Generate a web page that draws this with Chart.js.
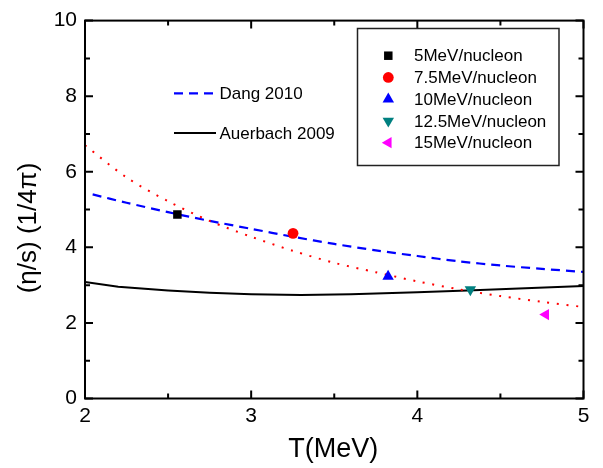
<!DOCTYPE html>
<html>
<head>
<meta charset="utf-8">
<script src="https://cdn.jsdelivr.net/npm/chart.js@4/dist/chart.umd.min.js"></script>
<style>
  html, body { margin: 0; padding: 0; background: #fff; }
  #wrap { width: 603px; height: 468px; }
</style>
</head>
<body>
<div id="wrap"><canvas id="c" width="603" height="468"></canvas></div>
<script>
// Beam energies of the measured points
const energyLabels = ['5MeV/nucleon', '7.5MeV/nucleon', '10MeV/nucleon', '12.5MeV/nucleon', '15MeV/nucleon'];
const pointT   = [2.556, 3.252, 3.824, 4.319, 4.773];
const pointEta = [4.87, 4.37, 3.23, 2.88, 2.22];

// Theory curves
const lineLabels = ['Dang 2010', 'Auerbach 2009'];
const dangT   = [2.046, 2.25, 2.5, 2.75, 3.0, 3.25, 3.5, 3.75, 4.0, 4.25, 4.5, 4.75, 5.0];
const dangEta = [5.40, 5.18, 4.93, 4.70, 4.49, 4.28, 4.09, 3.92, 3.77, 3.63, 3.52, 3.43, 3.35];
const auerT   = [2.0, 2.2, 2.5, 2.75, 3.0, 3.3, 3.6, 4.0, 4.3, 4.65, 5.0];
const auerEta = [3.08, 2.96, 2.86, 2.80, 2.76, 2.74, 2.76, 2.81, 2.86, 2.92, 2.98];

// Fit through the measured points
const fitT   = [2.0, 2.25, 2.5, 2.75, 3.0, 3.25, 3.5, 3.75, 4.0, 4.25, 4.5, 4.75, 5.0];
const fitEta = [6.70, 5.85, 5.22, 4.70, 4.28, 3.91, 3.59, 3.34, 3.10, 2.89, 2.71, 2.56, 2.42];

// Axis ticks
const xTicks = [2, 3, 4, 5];
const xMinor = [2.5, 3.5, 4.5];
const yTicks = [0, 2, 4, 6, 8, 10];
const yMinor = [1, 3, 5, 7, 9];

const FONT = "'Liberation Sans', Arial, Helvetica, sans-serif";
const pts = (xs, ys) => xs.map((x, i) => ({ x: x, y: ys[i] }));

const markerStyles = [
  { pointStyle: 'rect',     color: '#000000', radius: 6.0, rotation: 0 },
  { pointStyle: 'circle',   color: '#ff0000', radius: 5.4, rotation: 0 },
  { pointStyle: 'triangle', color: '#0000ff', radius: 6.6, rotation: 0 },
  { pointStyle: 'triangle', color: '#008080', radius: 6.6, rotation: 180 },
  { pointStyle: 'triangle', color: '#ff00ff', radius: 6.5, rotation: 270 }
];

const pointSets = energyLabels.map((lab, i) => ({
  label: lab,
  data: [{ x: pointT[i], y: pointEta[i] }],
  showLine: false,
  pointStyle: markerStyles[i].pointStyle,
  pointRotation: markerStyles[i].rotation,
  pointRadius: markerStyles[i].radius,
  pointBackgroundColor: markerStyles[i].color,
  pointBorderColor: markerStyles[i].color,
  pointBorderWidth: 0,
  order: 0
}));

const lineSets = [
  { label: lineLabels[0], data: pts(dangT, dangEta), showLine: true, pointRadius: 0,
    borderColor: '#0000ff', borderWidth: 2.2, borderDash: [9, 6], tension: 0.3, fill: false, order: 2 },
  { label: lineLabels[1], data: pts(auerT, auerEta), showLine: true, pointRadius: 0,
    borderColor: '#000000', borderWidth: 2, tension: 0, fill: false, order: 2 },
  { label: 'fit', data: pts(fitT, fitEta), showLine: true, pointRadius: 0,
    borderColor: '#ff0000', borderWidth: 2, borderDash: [2, 7.7], tension: 0.3, fill: false, order: 1 }
];

function drawMarker(ctx, style, x, y) {
  const opts = { pointStyle: style.pointStyle, radius: style.radius, rotation: style.rotation, borderWidth: 0 };
  ctx.save();
  ctx.fillStyle = style.color;
  ctx.strokeStyle = style.color;
  Chart.helpers.drawPoint(ctx, opts, x, y);
  ctx.restore();
}

// Frame with inward ticks, axis titles and the two legends
const decorations = {
  id: 'decorations',
  afterDraw(chart) {
    const ctx = chart.ctx;
    const a = chart.chartArea;
    const xs = chart.scales.x, ys = chart.scales.y;
    ctx.save();
    ctx.strokeStyle = '#000';
    ctx.lineWidth = 2;
    ctx.strokeRect(a.left, a.top, a.right - a.left, a.bottom - a.top);

    const tickX = (v, len) => {
      const p = xs.getPixelForValue(v);
      ctx.beginPath();
      ctx.moveTo(p, a.bottom); ctx.lineTo(p, a.bottom - len);
      ctx.moveTo(p, a.top);    ctx.lineTo(p, a.top + len);
      ctx.stroke();
    };
    const tickY = (v, len) => {
      const p = ys.getPixelForValue(v);
      ctx.beginPath();
      ctx.moveTo(a.left, p);  ctx.lineTo(a.left + len, p);
      ctx.moveTo(a.right, p); ctx.lineTo(a.right - len, p);
      ctx.stroke();
    };
    xTicks.forEach(v => tickX(v, 8));
    xMinor.forEach(v => tickX(v, 5));
    yTicks.forEach(v => tickY(v, 8));
    yMinor.forEach(v => tickY(v, 5));

    // axis titles
    ctx.fillStyle = '#000';
    ctx.font = '27px ' + FONT;
    ctx.textAlign = 'center';
    ctx.textBaseline = 'alphabetic';
    ctx.fillText('T(MeV)', (a.left + a.right) / 2 - 1, 457);
    ctx.save();
    ctx.translate(29, 228);
    ctx.rotate(-Math.PI / 2);
    ctx.textBaseline = 'middle';
    ctx.font = '26px ' + FONT;
    ctx.fillText('(\u03B7/s) (1/4\u03C0)', 0, 0);
    ctx.restore();

    // legend of the measured points
    ctx.lineWidth = 1.5;
    ctx.strokeStyle = '#222';
    ctx.strokeRect(357.5, 28.5, 201.5, 137);
    ctx.font = '17px ' + FONT;
    ctx.textAlign = 'left';
    ctx.textBaseline = 'middle';
    energyLabels.forEach((lab, i) => {
      const y = 55.7 + i * 21.75;
      drawMarker(ctx, markerStyles[i], 388.3, y);
      ctx.fillStyle = '#000';
      ctx.fillText(lab, 414, y + 1);
    });

    // legend of the theory curves
    const lineRows = [
      { set: lineSets[0], y: 93.3 },
      { set: lineSets[1], y: 133 }
    ];
    lineRows.forEach(r => {
      ctx.save();
      ctx.strokeStyle = r.set.borderColor;
      ctx.lineWidth = r.set.borderWidth;
      ctx.setLineDash(r.set.borderDash || []);
      ctx.beginPath();
      ctx.moveTo(174, r.y); ctx.lineTo(216, r.y);
      ctx.stroke();
      ctx.restore();
      ctx.fillStyle = '#000';
      ctx.fillText(r.set.label, 219.5, r.y + 1);
    });
    ctx.restore();
  }
};

new Chart(document.getElementById('c'), {
  type: 'scatter',
  data: { datasets: pointSets.concat(lineSets) },
  options: {
    responsive: false,
    animation: false,
    devicePixelRatio: 1,
    layout: { padding: { top: 17.5, right: 19.5, left: 0, bottom: 0 } },
    plugins: { legend: { display: false }, tooltip: { enabled: false } },
    scales: {
      x: {
        type: 'linear', min: 2, max: 5,
        grid: { display: false, drawTicks: false },
        border: { display: false },
        afterBuildTicks: s => { s.ticks = xTicks.map(v => ({ value: v })); },
        ticks: { padding: 5, color: '#000', font: { family: FONT, size: 21 }, maxRotation: 0,
                 callback: v => String(v) },
        afterFit: s => { s.height = 69.5; }
      },
      y: {
        type: 'linear', min: 0, max: 10,
        grid: { display: false, drawTicks: false },
        border: { display: false },
        afterBuildTicks: s => { s.ticks = yTicks.map(v => ({ value: v })); },
        ticks: { padding: 8, color: '#000', font: { family: FONT, size: 21 },
                 callback: v => String(v) },
        afterFit: s => { s.width = 85; }
      }
    }
  },
  plugins: [decorations]
});
</script>
</body>
</html>
